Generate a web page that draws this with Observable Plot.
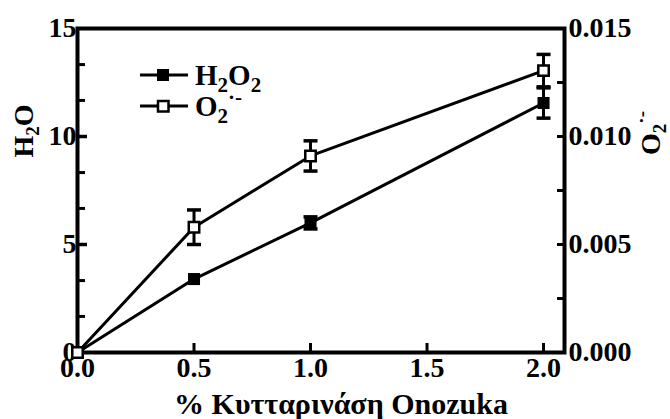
<!DOCTYPE html>
<html>
<head>
<meta charset="utf-8">
<script src="https://cdn.jsdelivr.net/npm/d3@7"></script>
<script src="https://cdn.jsdelivr.net/npm/@observablehq/plot@0.6"></script>
<style>
  html, body { margin: 0; padding: 0; background: #fff; }
  #chart svg { display: block; }
  #chart svg, #chart text { font-family: "Liberation Serif", "Times New Roman", Tinos, serif !important; font-weight: bold; }
</style>
</head>
<body>
<div id="chart"></div>
<script>
// ---- data ----
const enzyme = [0.0, 0.5, 1.0, 2.0];           // % Κυτταρινάση Onozuka
const h2o2 = [0, 3.4, 6.0, 11.55];              // left axis
const h2o2Err = [0, 0.1, 0.28, 0.7];
const o2 = [0, 0.0058, 0.0091, 0.01305];        // right axis
const o2Err = [0, 0.0008, 0.0007, 0.00075];

const xTickLabels = [0.0, 0.5, 1.0, 1.5, 2.0];
const xTickMarks = [0.5, 1.0, 1.5, 2.0];
const leftTickLabels = [0, 5, 10, 15];
const leftMinorTicks = [1.67, 3.33, 6.67, 8.33, 11.67, 13.33];
const leftMajorTicks = [5, 10];
const rightTickLabels = [0.000, 0.005, 0.010, 0.015];
const rightTickMarks = [0.0025, 0.005, 0.0075, 0.010, 0.0125];

const xTitle = "% Κυτταρινάση Onozuka";

// right axis mapped onto the left scale
const rightMax = 0.015, leftMax = 15;
const k = leftMax / rightMax;

const hData = enzyme.map((x, i) => ({x, y: h2o2[i], lo: h2o2[i] - h2o2Err[i], hi: h2o2[i] + h2o2Err[i]}));
const oData = enzyme.map((x, i) => ({x, y: o2[i] * k, lo: (o2[i] - o2Err[i]) * k, hi: (o2[i] + o2Err[i]) * k}));
const hBars = hData.filter(d => d.hi - d.lo > 0.3);
const oBars = oData.filter(d => d.hi - d.lo > 0.3);

const cap = { draw(ctx) { ctx.moveTo(-7, 0); ctx.lineTo(7, 0); } };
const FONT = "Liberation Serif, Times New Roman, serif";
const FS = 28;

const chart = Plot.plot({
  width: 670,
  height: 419,
  marginLeft: 77,
  marginRight: 106,
  marginTop: 28,
  marginBottom: 67,
  style: { fontFamily: FONT, fontWeight: "bold", fontSize: FS + "px", color: "black", background: "white" },
  x: { domain: [0, 2.09] },
  y: { domain: [0, leftMax] },
  marks: [
    Plot.axisX(xTickLabels, { tickSize: 0, tickPadding: 5, tickFormat: d => d.toFixed(1), fontSize: FS, label: null }),
    Plot.axisX(xTickMarks, { tickSize: -9, tickFormat: () => "", strokeWidth: 3, label: null }),
    Plot.axisY(leftTickLabels, { anchor: "left", tickSize: 0, tickPadding: 1, fontSize: FS, label: null }),
    Plot.axisY(leftMinorTicks, { anchor: "left", tickSize: -8, tickFormat: () => "", strokeWidth: 3, label: null }),
    Plot.axisY(leftMajorTicks, { anchor: "left", tickSize: -10, tickFormat: () => "", strokeWidth: 3.5, label: null }),
    Plot.axisY(rightTickLabels.map(v => v * k), { anchor: "right", tickSize: 0, tickPadding: 4, fontSize: FS, tickFormat: d => (d / k).toFixed(3), label: null }),
    Plot.axisY(rightTickMarks.map(v => v * k), { anchor: "right", tickSize: -8, tickFormat: () => "", strokeWidth: 3, label: null }),
    Plot.frame({ stroke: "black", strokeWidth: 4 }),
    Plot.line(hData, { x: "x", y: "y", stroke: "black", strokeWidth: 3 }),
    Plot.line(oData, { x: "x", y: "y", stroke: "black", strokeWidth: 3 }),
    Plot.ruleX(hBars, { x: "x", y1: "lo", y2: "hi", stroke: "black", strokeWidth: 3 }),
    Plot.dot(hBars, { x: "x", y: "lo", symbol: cap, stroke: "black", strokeWidth: 3.5 }),
    Plot.dot(hBars, { x: "x", y: "hi", symbol: cap, stroke: "black", strokeWidth: 3.5 }),
    Plot.ruleX(oBars, { x: "x", y1: "lo", y2: "hi", stroke: "black", strokeWidth: 3 }),
    Plot.dot(oBars, { x: "x", y: "lo", symbol: cap, stroke: "black", strokeWidth: 3.5 }),
    Plot.dot(oBars, { x: "x", y: "hi", symbol: cap, stroke: "black", strokeWidth: 3.5 }),
    Plot.dot(hData, { x: "x", y: "y", symbol: "square", r: 6.8, fill: "black", stroke: "none" }),
    Plot.dot(oData, { x: "x", y: "y", symbol: "square", r: 5.9, fill: "white", stroke: "black", strokeWidth: 2.5 })
  ]
});

document.getElementById("chart").appendChild(chart);

const svg = d3.select(chart);
const g = svg.append("g").attr("font-family", FONT).attr("font-weight", "bold").attr("fill", "black");

g.append("text").attr("x", 341).attr("y", 414)
  .attr("text-anchor", "middle").attr("font-size", 30).text(xTitle);

const lt = g.append("text").attr("transform", "translate(23,131) rotate(-90)")
  .attr("text-anchor", "middle").attr("dy", "0.35em").attr("font-size", 28);
lt.append("tspan").text("H");
lt.append("tspan").attr("font-size", 19).attr("dy", 6).text("2");
lt.append("tspan").attr("dy", -6).text("O");

const rt = g.append("text").attr("transform", "translate(650,133) rotate(-90)")
  .attr("text-anchor", "middle").attr("dy", "0.35em").attr("font-size", 28);
rt.append("tspan").text("O");
rt.append("tspan").attr("font-size", 19).attr("dy", 6).text("2");
rt.append("tspan").attr("font-size", 19).attr("dy", -18).text("·-");

function legendRow(y, filled, parts) {
  g.append("line").attr("x1", 140).attr("x2", 188).attr("y1", y).attr("y2", y)
    .attr("stroke", "black").attr("stroke-width", 3);
  if (filled) {
    g.append("rect").attr("x", 157).attr("y", y - 6).attr("width", 12).attr("height", 12).attr("fill", "black");
  } else {
    g.append("rect").attr("x", 158).attr("y", y - 5).attr("width", 10.5).attr("height", 10.5)
      .attr("fill", "white").attr("stroke", "black").attr("stroke-width", 2.5);
  }
  const t = g.append("text").attr("x", 195).attr("y", y).attr("dy", "0.35em")
    .attr("text-anchor", "start").attr("font-size", 29);
  parts.forEach(([s, kind]) => {
    const ts = t.append("tspan").text(s);
    if (kind === "sub") ts.attr("font-size", 21).attr("dy", 7);
    if (kind === "back") ts.attr("dy", -7);
    if (kind === "sup") ts.attr("font-size", 21).attr("dy", -19);
  });
}
legendRow(75, true, [["H"], ["2", "sub"], ["O", "back"], ["2", "sub"]]);
legendRow(106, false, [["O"], ["2", "sub"], ["·-", "sup"]]);
</script>
</body>
</html>
